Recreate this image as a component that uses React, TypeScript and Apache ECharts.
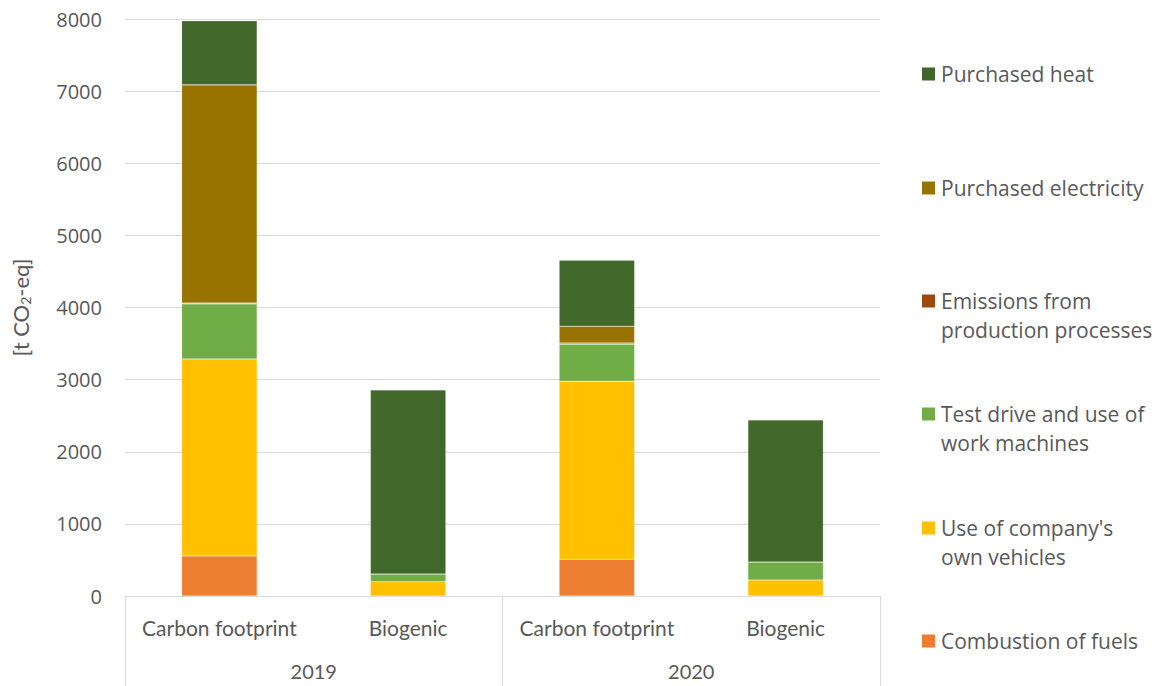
import React, { useEffect, useRef } from "react";
import * as echarts from "echarts";

const categories = ["Carbon footprint", "Biogenic", "Carbon footprint", "Biogenic"];
const years = ["2019", "2020"];
const yTicks = { min: 0, max: 8000, interval: 1000 };

const combustion = [555, 0, 509, 0];
const vehicles = [2732, 198, 2469, 222];
const testDrive = [763, 107, 513, 249];
const emissions = [12, 0, 15, 0];
const electricity = [3025, 0, 235, 0];
const heat = [888, 2552, 915, 1970];

const seriesNames = [
  "Combustion of fuels",
  "Use of company's own vehicles",
  "Test drive and use of work machines",
  "Emissions from production processes",
  "Purchased electricity",
  "Purchased heat",
];
const seriesData = [combustion, vehicles, testDrive, emissions, electricity, heat];
const colors = ["#ED7D31", "#FFC000", "#70AD47", "#9E480E", "#997300", "#43682B"];
const legendLabels: Record<string, string> = {
  "Purchased heat": "Purchased heat",
  "Purchased electricity": "Purchased electricity",
  "Emissions from production processes": "Emissions from\nproduction processes",
  "Test drive and use of work machines": "Test drive and use of\nwork machines",
  "Use of company's own vehicles": "Use of company's\nown vehicles",
  "Combustion of fuels": "Combustion of fuels",
};
// icon centre y of each legend entry (first text line)
const legendCenters: Record<string, number> = {
  "Purchased heat": 74,
  "Purchased electricity": 188,
  "Emissions from production processes": 301,
  "Test drive and use of work machines": 414,
  "Use of company's own vehicles": 528,
  "Combustion of fuels": 641,
};

const FONT = "'Open Sans', 'Noto Sans', sans-serif";
const XFONT = "Lato, 'Open Sans', sans-serif";
const TXT = "#595959";
const LH = 29;

export default function App() {
  const ref = useRef<HTMLDivElement>(null);
  useEffect(() => {
    if (!ref.current) return;
    const chart = echarts.init(ref.current, undefined, { renderer: "svg" });
    const legends = seriesNames.map((name) => {
      const twoLine = legendLabels[name].includes("\n");
      const c = legendCenters[name];
      return {
        data: [name],
        left: 922,
        top: c - LH / 2,
        padding: 0,
        orient: "vertical",
        itemWidth: 13,
        itemHeight: twoLine ? 2 * LH : 13,
        itemGap: 6,
        icon: twoLine
          ? "path://M0,0L0.01,0M0,8L13,8L13,21L0,21ZM0,58L0.01,58"
          : "rect",
        itemStyle: { borderWidth: 0 },
        formatter: (n: string) => legendLabels[n],
        textStyle: {
          fontFamily: FONT,
          fontSize: 21,
          color: TXT,
          lineHeight: LH,
          padding: [0, 0, 0, 1],
        },
        selectedMode: false,
      };
    });
    chart.setOption({
      animation: false,
      backgroundColor: "#ffffff",
      color: colors,
      grid: { left: 125, right: 280, top: 19, bottom: 90, containLabel: false },
      legend: legends,
      xAxis: [
        {
          type: "category",
          data: categories,
          position: "bottom",
          axisLine: { show: true, lineStyle: { color: "#d9d9d9", width: 1 } },
          axisTick: { show: false },
          axisLabel: { color: TXT, fontFamily: XFONT, fontSize: 21, margin: 21, interval: 0 },
        },
        {
          type: "category",
          data: years,
          position: "bottom",
          offset: 0,
          axisLine: { show: false },
          axisTick: { show: true, length: 90, interval: 0, lineStyle: { color: "#d9d9d9", width: 1 } },
          axisLabel: { color: TXT, fontFamily: XFONT, fontSize: 20, margin: 65, interval: 0 },
        },
      ],
      yAxis: {
        type: "value",
        min: yTicks.min,
        max: yTicks.max,
        interval: yTicks.interval,
        axisLine: { show: false },
        axisTick: { show: false },
        splitLine: { lineStyle: { color: "#d9d9d9", width: 1 } },
        axisLabel: {
          color: TXT,
          fontFamily: FONT,
          fontSize: 20,
          margin: 23,
          formatter: (v: number) => String(v),
        },
        name: "[t CO{sub|2}-eq]",
        nameLocation: "middle",
        nameGap: 93,
        nameRotate: 90,
        nameTextStyle: {
          color: TXT,
          fontFamily: XFONT,
          fontSize: 22,
          rich: {
            sub: { fontSize: 14, fontFamily: XFONT, color: TXT, padding: [9, 0, 0, 0] },
          },
        },
      },
      series: seriesNames.map((name, i) => ({
        name,
        type: "bar",
        stack: "total",
        xAxisIndex: 0,
        barWidth: "40%",
        data: seriesData[i],
        itemStyle: { color: colors[i], borderColor: "rgba(255,255,255,0.25)", borderWidth: 0.6 },
      })),
    });
    return () => chart.dispose();
  }, []);
  return (
    <div
      ref={ref}
      style={{ position: "fixed", left: 0, top: 0, width: 1160, height: 686, background: "#fff" }}
    />
  );
}
